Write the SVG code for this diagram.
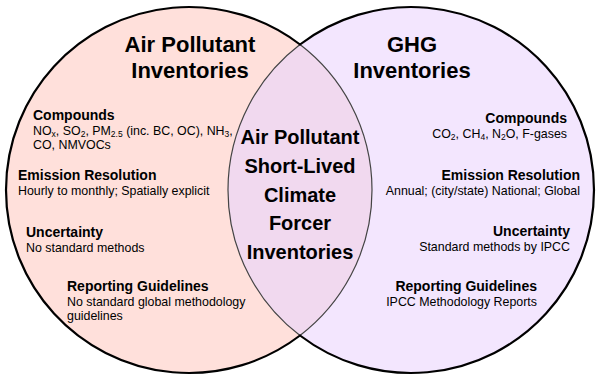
<svg xmlns="http://www.w3.org/2000/svg" width="600" height="382" viewBox="0 0 600 382">
<style>
.t{font-family:"Liberation Sans",Arial,sans-serif;fill:#000}
.title{font-size:22px;font-weight:bold;text-anchor:middle}
.ctr{font-size:20px;font-weight:bold;text-anchor:middle}
.h{font-size:14px;font-weight:bold}
.b{font-size:12.4px}
.r{text-anchor:end}
.sub{font-size:8.5px}
</style>
<rect width="600" height="382" fill="#ffffff"/>
<g id="left-set">
<circle cx="189" cy="190" r="183" fill="#FFE0DB"/>
</g>
<g id="right-set">
<circle cx="411" cy="190" r="183" fill="#F3E6FE"/>
</g>
<g id="overlap">
<path d="M300 44.5 A183 183 0 0 1 300 335.5 A183 183 0 0 1 300 44.5 Z" fill="#F1D9EF" stroke="#444" stroke-width="1.2"/>
</g>
<g id="outline">
<path d="M300 44.5 A183 183 0 1 0 300 335.5 A183 183 0 1 0 300 44.5 Z" fill="none" stroke="#000" stroke-width="2.2"/>
</g>
<g id="left-text" class="t">
<text class="title" x="190" y="52">Air Pollutant</text>
<text class="title" x="190" y="78">Inventories</text>
<text class="h" x="33" y="120">Compounds</text>
<text class="b" x="33" y="135">NO<tspan class="sub" dy="2">x</tspan><tspan dy="-2">, SO</tspan><tspan class="sub" dy="2">2</tspan><tspan dy="-2">, PM</tspan><tspan class="sub" dy="2">2.5</tspan><tspan dy="-2"> (inc. BC, OC), NH</tspan><tspan class="sub" dy="2">3</tspan><tspan dy="-2">,</tspan></text>
<text class="b" x="33" y="149">CO, NMVOCs</text>
<text class="h" x="18" y="180">Emission Resolution</text>
<text class="b" x="18" y="195">Hourly to monthly; Spatially explicit</text>
<text class="h" x="26" y="237">Uncertainty</text>
<text class="b" x="26" y="252">No standard methods</text>
<text class="h" x="67" y="291">Reporting Guidelines</text>
<text class="b" x="67" y="306">No standard global methodology</text>
<text class="b" x="67" y="320">guidelines</text>
</g>
<g id="right-text" class="t">
<text class="title" x="412" y="52">GHG</text>
<text class="title" x="412" y="78">Inventories</text>
<text class="h r" x="567" y="123">Compounds</text>
<text class="b r" x="567" y="138">CO<tspan class="sub" dy="2">2</tspan><tspan dy="-2">, CH</tspan><tspan class="sub" dy="2">4</tspan><tspan dy="-2">, N</tspan><tspan class="sub" dy="2">2</tspan><tspan dy="-2">O, F-gases</tspan></text>
<text class="h r" x="580" y="180">Emission Resolution</text>
<text class="b r" x="580" y="195">Annual; (city/state) National; Global</text>
<text class="h r" x="570" y="236">Uncertainty</text>
<text class="b r" x="570" y="251">Standard methods by IPCC</text>
<text class="h r" x="537" y="291">Reporting Guidelines</text>
<text class="b r" x="537" y="306">IPCC Methodology Reports</text>
</g>
<g id="center-text" class="t">
<text class="ctr" x="300" y="144">Air Pollutant</text>
<text class="ctr" x="300" y="173">Short-Lived</text>
<text class="ctr" x="300" y="202">Climate</text>
<text class="ctr" x="300" y="230">Forcer</text>
<text class="ctr" x="300" y="259">Inventories</text>
</g>
</svg>
